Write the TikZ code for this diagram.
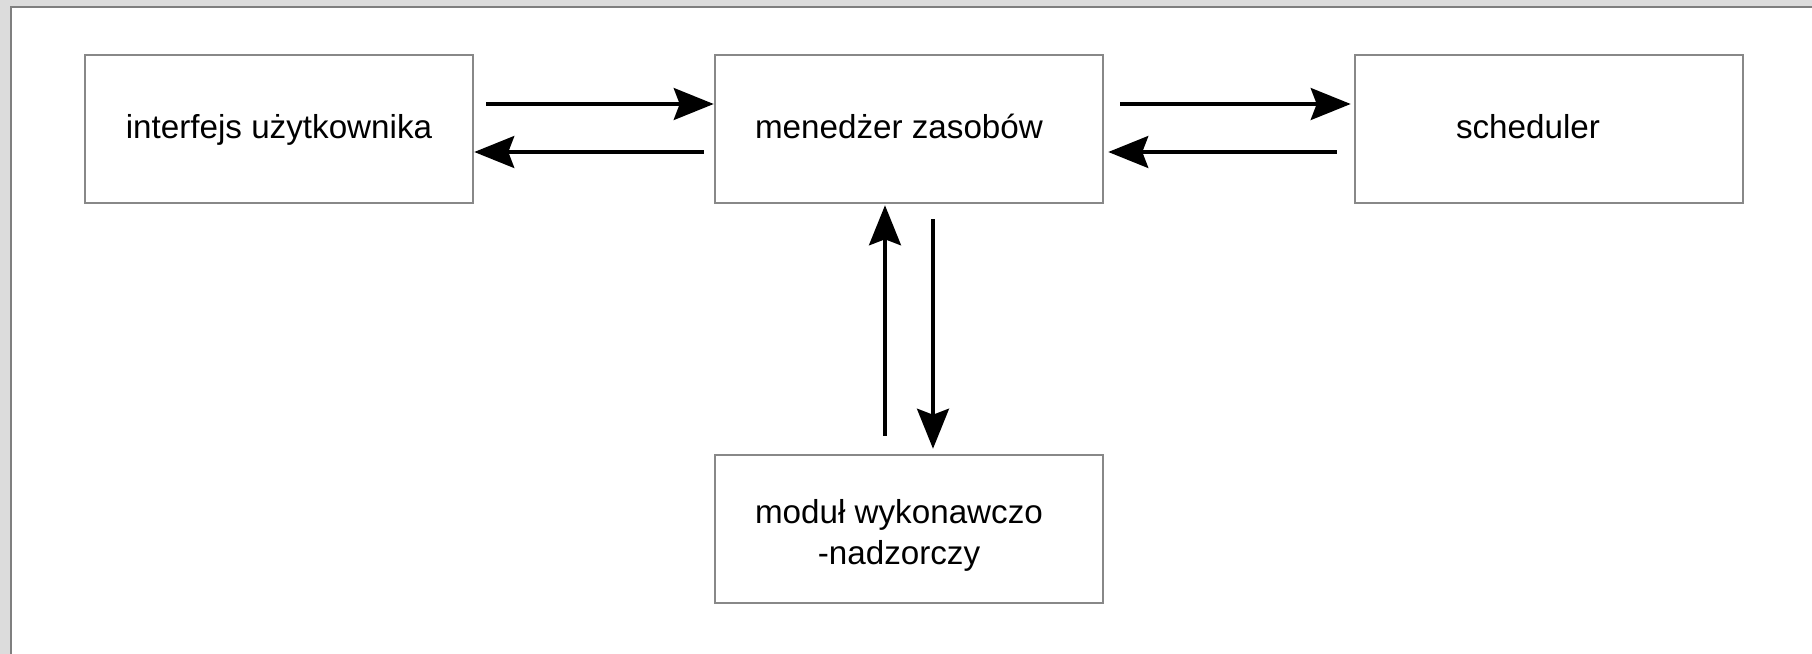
\documentclass[tikz,border=0pt]{standalone}
\usepackage{fontspec}
\setmainfont{Liberation Sans}
\usetikzlibrary{arrows.meta}
\definecolor{bggray}{HTML}{DCDCDC}
\definecolor{framegray}{HTML}{7F7F7F}
\definecolor{boxgray}{HTML}{888888}
\begin{document}
\begin{tikzpicture}[x=0.5pt,y=-0.5pt,
  box/.style={draw=boxgray, line width=1.3pt, fill=white, minimum width=194pt, minimum height=74pt, inner sep=0pt},
  txt/.style={inner sep=0pt, font=\fontsize{16.6pt}{20.3pt}\selectfont, text height=0.72em, text depth=0.21em},
  txtml/.style={inner sep=0pt, font=\fontsize{16.6pt}{20.6pt}\selectfont, align=center},
  arr/.style={line width=1.6pt, draw=black, -{Stealth[length=20pt, width=16pt, inset=3pt]}}]
\useasboundingbox (0,0) rectangle (1812,654);
\fill[bggray] (0,0) rectangle (1812,654);
\fill[white] (11,7) rectangle (1812,654);
\draw[framegray, line width=1pt] (11,654) -- (11,7) -- (1812,7);

\node[box] (ui)  at (279,129) {};
\node[box] (mgr) at (909,129) {};
\node[box] (sch) at (1549,129) {};
\node[box] (mod) at (909,529) {};

\node[txt] (uit) at ([shift={(0,4.5)}]ui.center) {interfejs użytkownika};
\node[txt] (mgrt) at ([shift={(-10,4.5)}]mgr.center) {menedżer zasobów};
\node[txt] (scht) at ([shift={(-21,4.5)}]sch.center) {scheduler};
\node[txtml] (modt) at ([shift={(-10,6.5)}]mod.center) {moduł wykonawczo\\-nadzorczy};

\draw[arr] ([shift={(12,-25)}]ui.east) -- ([shift={(0,-25)}]mgr.west);
\draw[arr] ([shift={(-10,23)}]mgr.west) -- ([shift={(0,23)}]ui.east);
\draw[arr] ([shift={(16,-25)}]mgr.east) -- ([shift={(-3,-25)}]sch.west);
\draw[arr] ([shift={(-17,23)}]sch.west) -- ([shift={(4,23)}]mgr.east);
\draw[arr] ([shift={(-24,-18)}]mod.north) -- ([shift={(-24,1)}]mgr.south);
\draw[arr] ([shift={(24,15)}]mgr.south) -- ([shift={(24,-5)}]mod.north);
\end{tikzpicture}
\end{document}
